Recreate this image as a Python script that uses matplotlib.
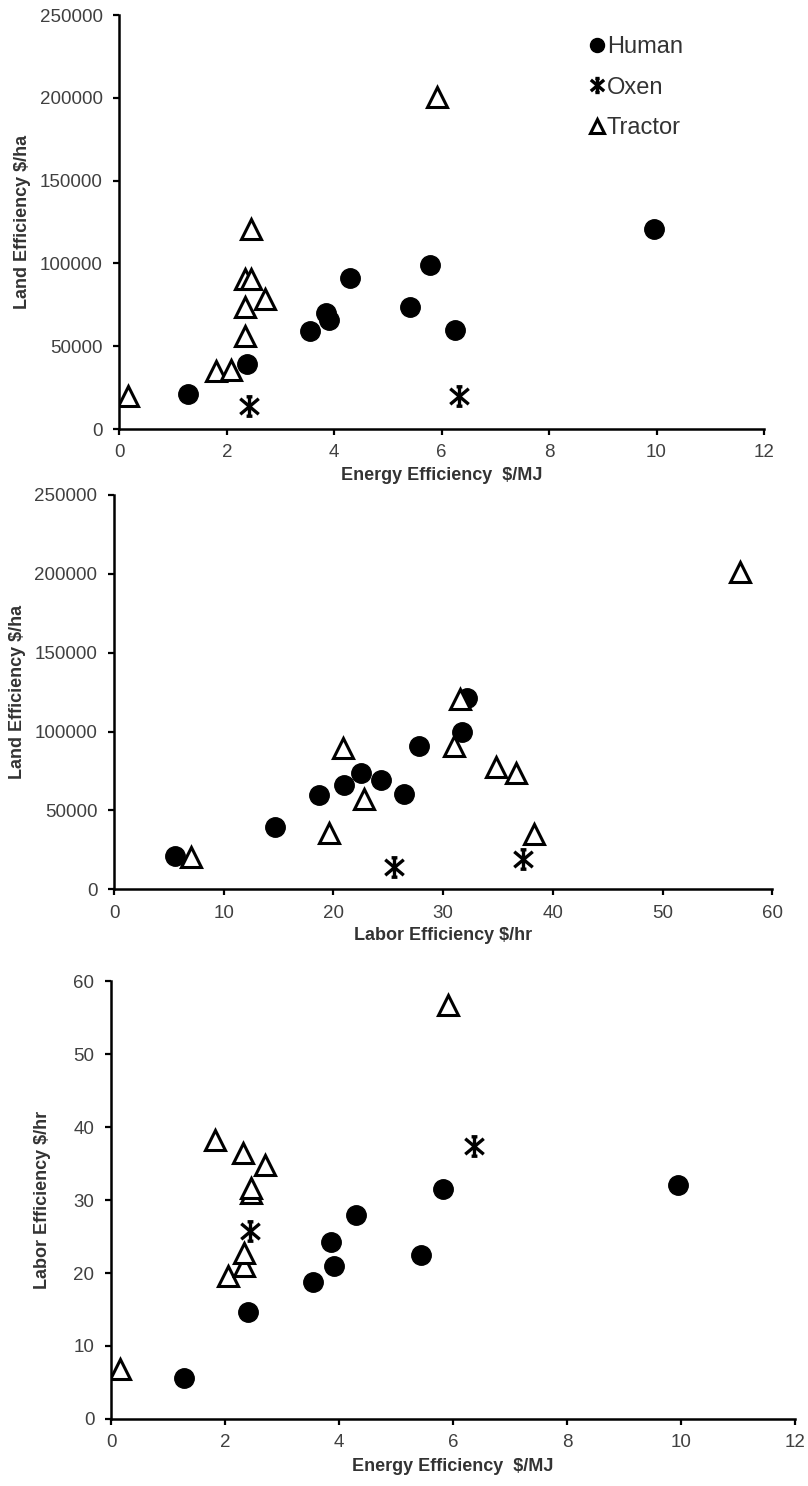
import matplotlib.pyplot as plt
from matplotlib.path import Path

plt.rcParams['font.family'] = ['Liberation Sans', 'DejaVu Sans']

# panel 1: energy efficiency vs land efficiency
human_energy = [1.27, 2.38, 3.55, 3.84, 3.91, 4.30, 5.41, 5.79, 6.24, 9.95]
human_land = [21000, 39100, 58900, 69800, 65800, 91000, 73400, 99100, 59700, 120900]
oxen_energy = [2.42, 6.33]
oxen_land = [13900, 20000]
tractor_energy = [0.17, 1.80, 2.08, 2.34, 2.34, 2.34, 2.45, 2.71, 2.45, 5.92]
tractor_land = [20000, 35100, 35700, 56300, 73800, 90800, 90800, 78500, 120900, 200500]

# panel 2: labor efficiency vs land efficiency
human_labor2 = [5.56, 14.68, 18.72, 21.0, 22.5, 24.3, 26.4, 27.8, 31.7, 32.15]
human_land2 = [21100, 39300, 59800, 66100, 73500, 69300, 60200, 91000, 99900, 121100]
oxen_labor2 = [25.5, 37.3]
oxen_land2 = [13900, 19200]
tractor_labor2 = [6.99, 19.6, 20.85, 22.8, 31.0, 31.5, 34.8, 36.6, 38.3, 57.1]
tractor_land2 = [20700, 35900, 89400, 57000, 91000, 120700, 77700, 73500, 35100, 201400]

# panel 3: energy efficiency vs labor efficiency
human_energy3 = [1.28, 2.40, 3.55, 3.92, 3.86, 4.30, 5.43, 5.83, 9.95]
human_labor3 = [5.6, 14.6, 18.7, 20.9, 24.3, 27.9, 22.5, 31.5, 32.1]
oxen_energy3 = [2.44, 6.36]
oxen_labor3 = [25.7, 37.4]
tractor_energy3 = [0.16, 2.06, 2.33, 2.33, 2.46, 2.46, 1.82, 2.32, 2.71, 5.92]
tractor_labor3 = [6.9, 19.6, 20.9, 22.8, 31.0, 31.6, 38.2, 36.5, 34.8, 56.7]

# asterisk-like marker for oxen (x with a vertical bar, short serifs)
star_path = Path(
    [(-0.3, -1), (0.3, -1), (0, -1), (0, 1), (-0.3, 1), (0.3, 1),
     (-0.95, -0.8), (0.95, 0.8), (-0.95, 0.8), (0.95, -0.8)],
    [Path.MOVETO, Path.LINETO, Path.MOVETO, Path.LINETO, Path.MOVETO, Path.LINETO,
     Path.MOVETO, Path.LINETO, Path.MOVETO, Path.LINETO])

tick_col = '#404040'
lab_col = '#333333'

fig = plt.figure(figsize=(8.08, 14.86), dpi=100)
ax1 = fig.add_axes([0.1477, 0.7113, 0.7978, 0.2786])
ax2 = fig.add_axes([0.1411, 0.4016, 0.8147, 0.2653])
ax3 = fig.add_axes([0.1374, 0.0451, 0.8465, 0.2947])


def draw(ax, hx, hy, ox, oy, tx, ty):
    ax.plot(hx, hy, 'o', color='black', markersize=14, linestyle='none', label='Human')
    ax.plot(ox, oy, marker=star_path, color='black', markersize=14, markeredgewidth=2.4,
            fillstyle='none', linestyle='none', label='Oxen')
    ax.plot(tx, ty, '^', markerfacecolor='white', markeredgecolor='black', markersize=14,
            markeredgewidth=2.2, linestyle='none', label='Tractor')
    for s in ['top', 'right']:
        ax.spines[s].set_visible(False)
    for s in ['left', 'bottom']:
        ax.spines[s].set_linewidth(1.8)
        ax.spines[s].set_color('black')
    ax.tick_params(direction='out', length=4, width=1.6, labelsize=13.5, labelcolor=tick_col)
    ax.tick_params(axis='x', pad=7)
    ax.tick_params(axis='y', pad=8)


draw(ax1, human_energy, human_land, oxen_energy, oxen_land, tractor_energy, tractor_land)
ax1.set_xlim(0, 12)
ax1.set_ylim(0, 250000)
ax1.set_xticks(range(0, 13, 2))
ax1.set_yticks(range(0, 250001, 50000))
ax1.set_xlabel(r'Energy Efficiency  \$/MJ', fontsize=13, fontweight='bold', color=lab_col, labelpad=4)
ax1.set_ylabel(r'Land Efficiency \$/ha', fontsize=13, fontweight='bold', color=lab_col, labelpad=6)

leg = ax1.legend(loc='upper left', bbox_to_anchor=(0.69, 1.0), frameon=False, fontsize=17,
                 handletextpad=-0.1, labelspacing=0.78, handlelength=1.0, markerscale=0.72)
for t in leg.get_texts():
    t.set_color(lab_col)

draw(ax2, human_labor2, human_land2, oxen_labor2, oxen_land2, tractor_labor2, tractor_land2)
ax2.set_xlim(0, 60)
ax2.set_ylim(0, 250000)
ax2.set_xticks(range(0, 61, 10))
ax2.set_yticks(range(0, 250001, 50000))
ax2.set_xlabel(r'Labor Efficiency \$/hr', fontsize=13, fontweight='bold', color=lab_col, labelpad=4)
ax2.set_ylabel(r'Land Efficiency \$/ha', fontsize=13, fontweight='bold', color=lab_col, labelpad=6)

draw(ax3, human_energy3, human_labor3, oxen_energy3, oxen_labor3, tractor_energy3, tractor_labor3)
ax3.set_xlim(0, 12)
ax3.set_ylim(0, 60)
ax3.set_xticks(range(0, 13, 2))
ax3.set_yticks(range(0, 61, 10))
ax3.set_xlabel(r'Energy Efficiency  \$/MJ', fontsize=13, fontweight='bold', color=lab_col, labelpad=5)
ax3.set_ylabel(r'Labor Efficiency \$/hr', fontsize=13, fontweight='bold', color=lab_col, labelpad=16)

plt.savefig('out.png', dpi=100)
